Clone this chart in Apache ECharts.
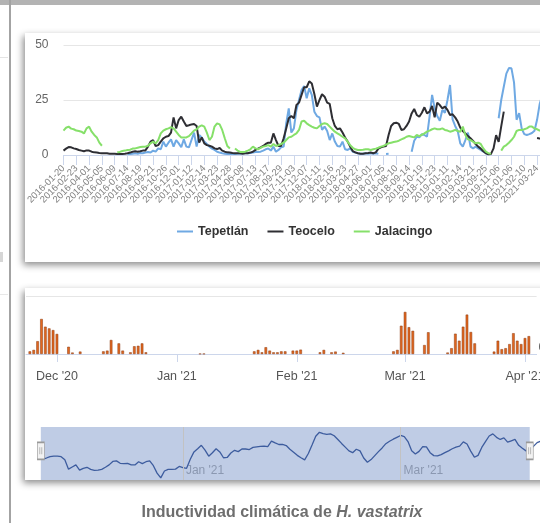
<!DOCTYPE html>
<html><head><meta charset="utf-8">
<script src="https://cdn.jsdelivr.net/npm/echarts@6/dist/echarts.min.js"></script>
<style>html,body{margin:0;padding:0;width:540px;height:523px;overflow:hidden;background:#fff}
#c{position:absolute;left:0;top:0;width:600px;height:523px}</style></head>
<body><div id="c"></div><script>
const lineLabels = ['2016-01-20','2016-02-23','2016-04-01','2016-05-05','2016-06-09','2016-07-14','2016-08-19','2016-09-21','2016-10-26','2016-12-01','2017-01-12','2017-02-14','2017-03-23','2017-04-28','2017-06-08','2017-07-13','2017-08-17','2017-09-29','2017-11-03','2017-12-07','2018-01-11','2018-02-16','2018-03-23','2018-04-27','2018-06-01','2018-07-05','2018-08-10','2018-09-14','2018-10-19','2018-11-23','2019-01-11','2019-02-14','2019-03-21','2019-09-25','2019-11-06','2021-01-06','2021-02-10','2021-03-24'];
const tepetlan = [
 null,null,null,null,null,null,null,null,null,null,
 null,null,null,null,null,null,null,null,null,null,
 null,null,null,null,null,0.5,0.5,0.6,0.8,0.6,
 0.9,0.8,1.1,1.4,1.1,2.0,1.5,3.0,2.6,6.1,
 3.8,5.6,7.1,3.8,6.8,5.3,3.5,7.1,3.8,3.5,
 6.8,10.2,3.8,9.1,8.0,6.1,5.0,3.8,2.9,2.3,
 1.5,1.1,0.8,0.6,0.5,0.5,0.5,0.5,0.6,0.6,
 0.8,0.8,0.8,0.9,1.1,1.4,1.4,1.5,2.0,2.6,
 3.0,2.0,3.8,1.5,2.3,3.5,3.8,14.4,21.2,10.2,
 12.1,20.5,25.0,29.5,31.4,25.8,30.3,27.3,19.7,17.7,
 17.1,11.4,12.9,10.9,6.8,9.8,6.1,4.1,3.8,6.1,
 2.6,2.3,3.0,1.5,1.1,0.8,0.6,0.6,0.8,0.6,
 0.8,0.6,0.8,0.6,null,null,0.5,0.6,null,null,
 null,null,null,null,null,null,1.5,6.5,8.3,8.0,
 9.5,9.1,8.3,17.4,27.3,21.2,17.7,15.6,20.5,19.2,
 25.0,31.8,16.2,13.2,10.9,5.3,3.8,6.8,10.2,3.8,
 3.0,3.8,3.0,2.3,1.5,0.8,0.5,0.5,null,null,
 16.7,25.0,31.0,37.0,39.5,39.4,33.0,16.0,19.0,12.0,
 9.5,9.1,9.5,10.0,11.0,16.0,23.0,27.0,null,null];
const teocelo = [
 2.0,2.9,3.6,3.5,3.0,2.7,2.3,2.0,1.7,2.1,
 2.0,1.5,1.2,1.1,0.9,0.8,0.8,0.8,0.6,0.6,
 0.6,0.5,0.5,0.5,0.6,0.8,1.1,1.5,1.7,1.5,
 1.7,2.0,2.1,3.8,6.1,6.8,4.1,4.5,6.1,7.6,
 8.3,8.6,10.2,17.1,12.1,15.9,17.4,15.2,13.2,13.5,
 13.9,14.1,13.2,5.6,8.0,5.3,4.5,4.2,3.8,3.0,
 2.7,3.2,2.0,1.5,1.2,1.1,0.9,0.8,0.8,0.8,
 0.6,0.8,0.8,1.1,1.5,2.3,2.9,3.5,4.1,5.0,
 5.6,5.6,9.8,6.8,4.1,4.1,7.6,12.1,16.7,17.7,
 16.7,22.7,23.8,27.3,30.8,30.8,33.5,32.5,27.7,22.0,
 25.0,27.6,26.5,23.8,23.2,16.7,13.2,11.7,12.1,10.2,
 8.0,6.1,3.8,1.8,1.2,0.8,0.6,0.6,0.8,0.9,
 1.1,0.8,1.2,2.9,3.5,3.8,4.1,9.1,13.2,14.4,
 14.7,14.1,11.4,11.7,13.2,15.2,18.9,20.9,18.2,17.4,
 19.2,21.7,18.9,19.7,22.3,17.1,23.8,22.7,21.2,22.0,
 20.5,18.2,18.5,17.1,15.2,12.4,10.9,9.8,8.6,7.6,
 6.4,5.0,3.8,2.9,1.7,0.8,0.3,0.5,3.0,9.0,
 6.0,13.0,19.7,null,null,null,null,null,null,null,
 null,null,null,null,null,7.7,7.5,7.4,null,null];
const jalacingo = [
 11.1,12.4,12.9,12.0,11.7,11.1,10.9,10.6,9.8,12.1,
 12.9,10.6,9.1,8.0,5.6,4.2,null,null,null,null,
 null,1.2,1.4,1.8,2.0,2.3,2.4,2.9,3.0,3.3,
 3.6,3.8,3.8,4.2,5.3,6.1,5.3,6.8,9.8,11.1,
 11.7,12.1,12.6,12.1,10.6,9.1,8.0,7.9,8.0,8.6,
 9.8,11.1,11.7,12.9,13.5,12.9,10.2,6.8,8.3,12.9,
 14.4,13.9,11.4,7.6,4.1,3.0,null,3.0,2.0,1.4,
 1.4,1.5,2.0,2.6,3.8,3.0,2.6,3.3,3.8,4.1,
 4.5,3.8,5.0,4.1,4.5,5.0,5.6,6.8,8.0,8.3,
 9.1,9.8,11.4,15.2,15.6,14.4,13.6,12.9,12.4,12.1,
 13.2,14.1,14.4,14.1,12.9,11.7,10.6,9.8,9.1,8.3,
 7.6,6.1,4.5,3.3,2.6,2.3,2.3,2.4,2.6,2.6,
 2.3,2.6,2.9,3.3,3.8,4.1,4.7,5.3,5.6,5.9,
 6.1,6.5,7.1,7.6,8.3,8.6,8.3,8.0,9.1,8.6,
 9.2,9.8,10.6,11.1,11.7,12.1,11.7,11.7,12.1,11.4,
 11.1,10.6,10.9,11.4,10.9,10.6,12.9,9.1,7.1,6.8,
 6.1,5.3,5.6,5.0,3.0,1.5,0.8,0.5,null,null,
 null,2.0,3.8,4.5,5.6,6.8,8.3,10.9,11.4,11.4,
 11.7,12.1,12.9,12.9,12.1,11.7,11.1,11.0,null,null];

const barDates = ['2020-11-24','2020-11-25','2020-11-26','2020-11-27','2020-11-28','2020-11-29','2020-11-30','2020-12-01','2020-12-04','2020-12-05','2020-12-07','2020-12-13','2020-12-14','2020-12-15','2020-12-17','2020-12-18','2020-12-20','2020-12-21','2020-12-22','2020-12-23','2020-12-24','2021-01-07','2021-01-08','2021-01-21','2021-01-22','2021-01-23','2021-01-24','2021-01-25','2021-01-26','2021-01-27','2021-01-28','2021-01-29','2021-01-31','2021-02-01','2021-02-02','2021-02-07','2021-02-08','2021-02-10','2021-02-11','2021-02-13','2021-02-26','2021-02-27','2021-02-28','2021-03-01','2021-03-02','2021-03-03','2021-03-06','2021-03-07','2021-03-12','2021-03-13','2021-03-14','2021-03-15','2021-03-16','2021-03-17','2021-03-18','2021-03-19','2021-03-24','2021-03-25','2021-03-26','2021-03-27','2021-03-28','2021-03-29','2021-03-30','2021-03-31','2021-04-01','2021-04-02'];
const barValues = [1.1,1.7,5.3,14.5,11.3,10.6,9.9,8.3,3.0,0.6,1.0,1.1,1.4,5.8,4.4,1.4,0.7,3.2,3.4,4.4,0.7,0.1,0.1,1.1,1.7,0.7,2.8,1.4,0.7,0.7,1.1,1.1,1.4,1.4,1.8,0.7,1.7,0.7,1.0,0.5,1.1,1.7,11.7,17.4,11.1,9.6,3.7,9.0,0.6,2.4,8.4,5.5,11.3,16.3,9.1,4.4,1.0,5.5,2.0,2.4,4.1,8.6,5.5,4.1,6.6,7.4];

const navStart = '2020-11-24';
const navValues = [17.9,18.3,18.8,19.0,19.0,18.8,17.6,14.1,14.9,15.7,13.7,14.4,14.8,14.0,13.6,13.7,14.0,14.8,15.7,17.0,17.2,16.3,16.2,16.3,15.7,15.7,16.9,16.2,16.9,17.2,15.4,12.6,10.8,13.4,14.0,14.0,14.1,15.1,14.7,14.4,17.8,20.6,21.8,23.1,21.3,19.0,20.3,21.8,20.6,18.4,18.5,20.2,21.2,20.7,21.7,21.7,21.5,22.3,22.5,22.7,22.8,22.6,24.7,24.0,23.4,23.4,23.0,21.6,20.5,19.3,18.4,17.6,20.0,23.2,26.5,28.0,27.5,27.2,27.4,26.7,25.3,23.8,22.4,21.0,20.3,21.6,21.0,18.3,16.7,17.7,19.2,20.7,22.1,23.7,24.6,25.4,26.1,26.8,26.4,24.5,21.0,19.8,20.8,22.6,22.5,20.3,19.2,19.1,19.6,20.3,21.0,21.8,22.4,22.8,24.4,23.6,20.9,18.6,19.3,22.3,24.5,26.6,27.4,26.1,25.3,25.9,24.3,24.8,25.3,23.1,22.0,21.0,21.2,22.7,24.1,24.7];

const monthTicks = ['2020-12-01','2021-01-01','2021-02-01','2021-03-01','2021-04-01'];
const navTicks = ['2021-01-01','2021-03-01'];
const mainRange = ['2020-11-23','2021-04-04'];
const navRange = ['2020-11-23','2021-04-09'];
const selection = ['2020-11-23 12','2021-04-05 0'];

function ts(s){const p=s.split(' ');const [y,m,d]=p[0].split('-').map(Number);return Date.UTC(y,m-1,d,p[1]?Number(p[1]):0);}
const MONTHS=['Jan','Feb','Mar','Apr','May','Jun','Jul','Aug','Sep','Oct','Nov','Dec'];
const fmtMonth=v=>{const d=new Date(v);return MONTHS[d.getUTCMonth()]+" '"+String(d.getUTCFullYear()).slice(2);};
const sans='"Liberation Sans",Arial,sans-serif';

const categories=[];
lineLabels.forEach(l=>{categories.push(l);for(let k=0;k<4;k++)categories.push('');});
const barData=barDates.map((d,i)=>[ts(d),barValues[i]]);
const navData=navValues.map((v,i)=>[ts(navStart)+i*86400000,v]);
const cardStyle={fill:'#fff',shadowBlur:7,shadowOffsetX:-2,shadowOffsetY:3,shadowColor:'rgba(0,0,0,0.45)'};

const chart=echarts.init(document.getElementById('c'));
chart.setOption({
 animation:false,
 textStyle:{fontFamily:sans},
 graphic:[
  {type:'rect',z:-5,shape:{x:0,y:0,width:600,height:5},style:{fill:'#b3b3b3'}},
  {type:'rect',z:-5,shape:{x:9,y:0,width:2,height:523},style:{fill:'#a3a3a3'}},
  {type:'rect',z:-5,shape:{x:0,y:57,width:8,height:1},style:{fill:'#e4e4e4'}},
  {type:'rect',z:-5,shape:{x:0,y:252,width:3,height:10},style:{fill:'#d6d6d6'}},
  {type:'rect',z:-5,shape:{x:0,y:294,width:8,height:1},style:{fill:'#e8e8e8'}},
  {type:'rect',z:-5,shape:{x:25,y:33,width:600,height:229},style:cardStyle},
  {type:'rect',z:-5,shape:{x:25,y:288,width:600,height:192},style:cardStyle}
 ],
 title:{text:'{a|Inductividad climática de }{b|H. vastatrix}',left:277,top:500,textAlign:'center',
  textStyle:{rich:{a:{fontSize:16,fontWeight:'bold',color:'#6e6e6e',fontFamily:sans},
   b:{fontSize:16,fontWeight:'bold',fontStyle:'italic',color:'#6e6e6e',fontFamily:sans}}}},
 legend:{data:['Tepetlán','Teocelo','Jalacingo'],left:172,top:220,icon:'rect',itemWidth:16,itemHeight:2,itemGap:19,
  textStyle:{fontSize:12.5,fontWeight:'bold',color:'#333'}},
 grid:[
  {left:63.5,top:45,width:483.8,height:110},
  {left:26,top:296,width:510.6,height:58},
  {left:39,top:427,width:505.5,height:53}
 ],
 xAxis:[
  {gridIndex:0,type:'category',data:categories,boundaryGap:false,
   axisLine:{lineStyle:{color:'#ccd6eb'}},
   axisTick:{interval:4,length:10,lineStyle:{color:'#ccd6eb'}},
   axisLabel:{interval:0,rotate:45,fontSize:9.5,color:'#808080',margin:12},
   splitLine:{show:false}},
  {gridIndex:1,type:'value',min:ts(mainRange[0]),max:ts(mainRange[1]),
   axisLine:{lineStyle:{color:'#ccd6eb'}},
   axisTick:{customValues:monthTicks.map(ts),length:8,lineStyle:{color:'#ccd6eb'}},
   axisLabel:{customValues:monthTicks.map(ts),formatter:fmtMonth,fontSize:12.5,color:'#555',margin:16},
   splitLine:{show:false}},
  {gridIndex:2,type:'value',min:ts(navRange[0]),max:ts(navRange[1]),
   axisLine:{show:false},axisTick:{show:false},
   axisLabel:{customValues:navTicks.map(ts),formatter:fmtMonth,inside:true,align:'left',margin:3,fontSize:12,color:'#a6a6a6',padding:[0,0,0,3]},
   splitLine:{show:false}}
 ],
 yAxis:[
  {gridIndex:0,type:'value',min:0,max:50,interval:25,axisLine:{show:false},axisTick:{show:false},
   axisLabel:{color:'#666',fontSize:12,margin:15},splitLine:{lineStyle:{color:'#e6e6e6'}}},
  {gridIndex:1,type:'value',min:0,max:24,interval:24,position:'right',axisLine:{show:false},axisTick:{show:false},
   axisLabel:{formatter:v=>v===0?'0':'',margin:2,color:'#666',fontSize:12,verticalAlign:'bottom'},
   splitLine:{lineStyle:{color:'#e6e6e6'}}},
  {gridIndex:2,type:'value',min:10,max:30,show:false}
 ],
 series:[
  {name:'Tepetlán',type:'line',xAxisIndex:0,yAxisIndex:0,data:tepetlan,symbol:'none',lineStyle:{width:2,color:'#6fa9e3'},itemStyle:{color:'#6fa9e3'}},
  {name:'Teocelo',type:'line',xAxisIndex:0,yAxisIndex:0,data:teocelo,symbol:'none',lineStyle:{width:2,color:'#2e2e33'},itemStyle:{color:'#2e2e33'}},
  {name:'Jalacingo',type:'line',xAxisIndex:0,yAxisIndex:0,data:jalacingo,symbol:'none',lineStyle:{width:2,color:'#86e06a'},itemStyle:{color:'#86e06a'}},
  {name:'Inductividad',type:'bar',xAxisIndex:1,yAxisIndex:1,data:barData,barWidth:2.6,
   itemStyle:{color:'#e2671f',borderColor:'#8a3b10',borderWidth:0.5}},
  {name:'Navegador',type:'line',xAxisIndex:2,yAxisIndex:2,data:navData,symbol:'none',
   lineStyle:{width:1.3,color:'#3d5c9e'},itemStyle:{color:'#3d5c9e'},
   markArea:{silent:true,itemStyle:{color:'rgba(102,133,194,0.42)'},data:[[{xAxis:ts(selection[0])},{xAxis:ts(selection[1])}]]},
   markLine:{silent:true,symbol:['none','none'],label:{show:false},lineStyle:{color:'#c2c2c2',type:'solid',width:1},
    data:navTicks.map(t=>({xAxis:ts(t)}))},
   markPoint:{silent:true,symbol:'path://M0,0L7,0L7,17L0,17Z M2.5,5L2.5,12 M4.5,5L4.5,12',symbolSize:[7,17],
    itemStyle:{color:'#f2f2f2',borderColor:'#999',borderWidth:1},label:{show:false},
    data:selection.map(s=>({coord:[ts(s),21]}))}}
 ]
});
</script></body></html>
